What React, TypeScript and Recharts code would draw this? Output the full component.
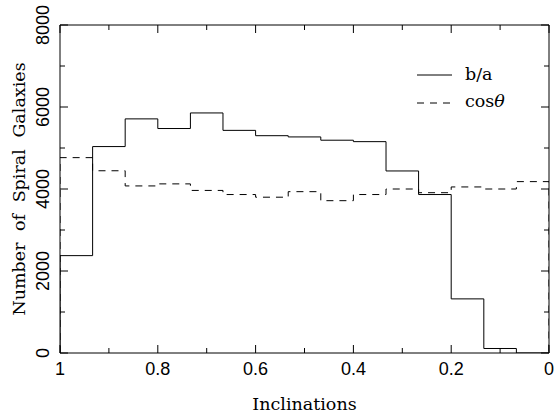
// Step histogram of spiral-galaxy inclinations: b/a (solid) vs cos(theta) (dashed).
// x runs 1 -> 0 (reversed), 15 equal bins; ticks point inward on all four sides.

import { ComposedChart, Legend, Line, XAxis, YAxis } from "recharts";

// bin edges, left to right as drawn (1 -> 0)
const EDGES = [1, 0.9333, 0.8667, 0.8, 0.7333, 0.6667, 0.6, 0.5333, 0.4667, 0.4, 0.3333, 0.2667, 0.2, 0.1333, 0.0667, 0];
// counts per bin, same order
const BA = [2375, 5035, 5710, 5475, 5855, 5430, 5300, 5270, 5190, 5155, 4440, 3865, 1320, 110, 0];
const COS = [4765, 4445, 4075, 4125, 3965, 3865, 3800, 3935, 3715, 3865, 4000, 3910, 4050, 4000, 4180];

const X_TICKS = [1, 0.9, 0.8, 0.7, 0.6, 0.5, 0.4, 0.3, 0.2, 0.1, 0];
const Y_TICKS = [0, 1000, 2000, 3000, 4000, 5000, 6000, 7000, 8000];

// stepAfter rows: open at 0, one row per bin start, close back down to 0 at x=0
const rows = [
  { x: EDGES[0], ba: 0, cos: 0 },
  ...BA.map((v, i) => ({ x: EDGES[i], ba: v, cos: COS[i] })),
  { x: EDGES[EDGES.length - 1], ba: 0, cos: 0 },
];

const INK = "#000";
const SERIF = "'DejaVu Serif', serif";
const SANS = "'Liberation Sans', Arial, sans-serif";
const MAJOR = 8;
const MINOR = 5;

const isMajorX = (v: number) => Math.round(v * 10) % 2 === 0;
const isMajorY = (v: number) => v % 2000 === 0;

// plain <line> tick marks did not show up, paths do
function BottomTick(p: any) {
  const v = p.payload.value;
  const major = isMajorX(v);
  return (
    <g>
      <path d={`M${p.x},${p.y}V${p.y - (major ? MAJOR : MINOR)}`} stroke={INK} fill="none" />
      {major && (
        <text x={p.x} y={p.y + 22} textAnchor="middle" fontFamily={SANS} fontSize={18} fill={INK}>
          {String(v)}
        </text>
      )}
    </g>
  );
}

function TopTick(p: any) {
  const major = isMajorX(p.payload.value);
  return <path d={`M${p.x},${p.y}V${p.y + (major ? MAJOR : MINOR)}`} stroke={INK} fill="none" />;
}

function LeftTick(p: any) {
  const v = p.payload.value;
  const major = isMajorY(v);
  return (
    <g>
      <path d={`M${p.x},${p.y}H${p.x + (major ? MAJOR : MINOR)}`} stroke={INK} fill="none" />
      {major && (
        <text
          transform={`translate(49, ${p.y}) rotate(-90)`}
          textAnchor="middle"
          fontFamily={SANS}
          fontSize={18}
          fill={INK}
        >
          {String(v)}
        </text>
      )}
    </g>
  );
}

function RightTick(p: any) {
  const major = isMajorY(p.payload.value);
  return <path d={`M${p.x},${p.y}H${p.x - (major ? MAJOR : MINOR)}`} stroke={INK} fill="none" />;
}

function KeyBox() {
  return (
    <svg width={130} height={56}>
      <path d="M7,15H42" stroke={INK} />
      <text x={55} y={20} fontFamily={SERIF} fontSize={17.5} fill={INK}>
        b/a
      </text>
      <path d="M7,43H42" stroke={INK} strokeDasharray="7 6" />
      <text x={55} y={47} fontFamily={SERIF} fontSize={17.5} fill={INK}>
        cos<tspan fontStyle="italic">θ</tspan>
      </text>
    </svg>
  );
}

export default function App() {
  return (
    <div style={{ position: "absolute", left: 0, top: 0, width: 555, height: 416, background: "#fff" }}>
      <ComposedChart width={555} height={416} data={rows} margin={{ top: 24, right: 5, bottom: 0, left: 0 }}>
        <XAxis
          dataKey="x"
          type="number"
          domain={[0, 1]}
          reversed
          allowDataOverflow
          ticks={X_TICKS}
          interval={0}
          height={63}
          tickSize={0}
          tickMargin={0}
          tickLine={false}
          axisLine={{ stroke: INK }}
          tick={BottomTick}
          label={{
            content: (lp: any) => (
              <text
                x={lp.viewBox.x + lp.viewBox.width / 2}
                y={410}
                textAnchor="middle"
                fontFamily={SERIF}
                fontSize={17.5}
                fill={INK}
              >
                Inclinations
              </text>
            ),
          }}
        />
        <XAxis
          xAxisId="top"
          orientation="top"
          dataKey="x"
          type="number"
          domain={[0, 1]}
          reversed
          allowDataOverflow
          ticks={X_TICKS}
          interval={0}
          height={1}
          tickSize={0}
          tickMargin={0}
          tickLine={false}
          axisLine={{ stroke: INK }}
          tick={TopTick}
        />
        <YAxis
          type="number"
          domain={[0, 8000]}
          allowDataOverflow
          ticks={Y_TICKS}
          interval={0}
          width={60}
          tickSize={0}
          tickMargin={0}
          tickLine={false}
          axisLine={{ stroke: INK }}
          tick={LeftTick}
          label={{
            content: (lp: any) => (
              <text
                transform={`translate(25, ${lp.viewBox.y + lp.viewBox.height / 2}) rotate(-90)`}
                textAnchor="middle"
                fontFamily={SERIF}
                fontSize={17.5}
                wordSpacing={6}
                fill={INK}
              >
                Number of Spiral Galaxies
              </text>
            ),
          }}
        />
        <YAxis
          yAxisId="right"
          orientation="right"
          type="number"
          domain={[0, 8000]}
          allowDataOverflow
          ticks={Y_TICKS}
          interval={0}
          width={1}
          tickSize={0}
          tickMargin={0}
          tickLine={false}
          axisLine={{ stroke: INK }}
          tick={RightTick}
        />
        <Legend
          layout="vertical"
          align="center"
          verticalAlign="middle"
          content={() => <KeyBox />}
          wrapperStyle={{ left: 410, top: 60, width: 130, height: 56 }}
        />
        <Line
          type="stepAfter"
          dataKey="ba"
          stroke={INK}
          strokeWidth={1}
          dot={false}
          activeDot={false}
          isAnimationActive={false}
        />
        <Line
          type="stepAfter"
          dataKey="cos"
          stroke={INK}
          strokeWidth={1}
          strokeDasharray="7 6"
          dot={false}
          activeDot={false}
          isAnimationActive={false}
        />
        {/* invisible series so the top and right frame axes get drawn */}
        <Line
          xAxisId="top"
          yAxisId="right"
          dataKey="ba"
          stroke="none"
          dot={false}
          activeDot={false}
          legendType="none"
          isAnimationActive={false}
        />
      </ComposedChart>
    </div>
  );
}
